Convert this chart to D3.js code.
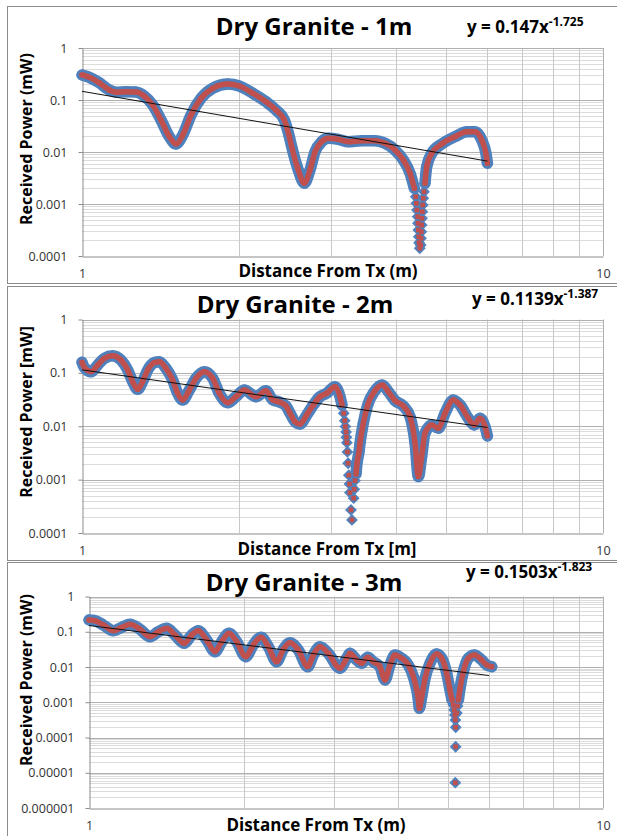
<!DOCTYPE html>
<html>
<head>
<meta charset="utf-8">
<script src="https://cdn.jsdelivr.net/npm/d3@7"></script>
<style>
body { margin: 0; background: #fff; }
svg text { font-family: "Open Sans", sans-serif; }
</style>
</head>
<body>
<div id="chart"></div>
<script>
// ---- data ----
var titles = ["Dry Granite - 1m", "Dry Granite - 2m", "Dry Granite - 3m"];
var yTitles = ["Received Power (mW)", "Received Power [mW]", "Received Power (mW)"];
var xTitles = ["Distance From Tx (m)", "Distance From Tx [m]", "Distance From Tx (m)"];
var yTickLabels = ["1", "0.1", "0.01", "0.001", "0.0001", "0.00001", "0.000001"];
var xTickLabels = ["1", "10"];

// power fit y = a * x^b, drawn over the measured range
var fitA = [0.147, 0.1139, 0.1503];
var fitB = [-1.725, -1.387, -1.823];
var fitRange = [1, 6];

// 1 m
var dist1 = [1.000, 1.033, 1.079, 1.128, 1.162, 1.215, 1.269, 1.317, 1.367, 1.418,
  1.471, 1.515, 1.561, 1.619, 1.692, 1.782, 1.904, 2.004, 2.127, 2.255,
  2.357, 2.445, 2.500, 2.526, 2.601, 2.671, 2.739, 2.801, 2.885, 2.970,
  3.104, 3.244, 3.443, 3.651, 3.815, 3.989, 4.138, 4.263, 4.344,
  4.371, 4.383, 4.395, 4.409, 4.415, 4.422, 4.430, 4.436, 4.449,
  4.468, 4.474, 4.480, 4.487, 4.494, 4.500, 4.508, 4.519, 4.533,
  4.554, 4.588, 4.691, 4.903, 5.199, 5.476, 5.680, 5.851, 5.960, 6.000];
var power1 = [0.303, 0.273, 0.215, 0.156, 0.141, 0.144, 0.1425, 0.119, 0.080, 0.0412,
  0.0197, 0.01425, 0.0212, 0.0515, 0.1078, 0.168, 0.203, 0.186, 0.1346, 0.0927,
  0.0642, 0.0412, 0.0197, 0.01265, 0.00451, 0.0025, 0.00451, 0.01014, 0.0158, 0.0183,
  0.01754, 0.0158, 0.0165, 0.0165, 0.0147, 0.0109, 0.00702, 0.00389, 0.0020,
  0.00138, 0.00103, 0.000767, 0.00057, 0.000426, 0.000316, 0.000235, 0.00018, 0.000141,
  0.000163, 0.000219, 0.000293, 0.000395, 0.000531, 0.000711, 0.000957, 0.00129, 0.00172,
  0.0025, 0.00521, 0.00944, 0.01425, 0.0197, 0.0246, 0.0246, 0.017, 0.00944, 0.00607];
var loose1 = [4.36, 4.545];   // stretch where single markers stand apart

// 2 m
var dist2 = [1.000, 1.010, 1.041, 1.072, 1.104, 1.145, 1.188, 1.224, 1.251, 1.279,
  1.307, 1.337, 1.376, 1.407, 1.449, 1.493, 1.526, 1.561, 1.607, 1.655,
  1.717, 1.782, 1.834, 1.904, 1.975, 2.049, 2.158, 2.255, 2.323, 2.391,
  2.464, 2.507, 2.563, 2.621, 2.700, 2.780, 2.863, 2.949, 3.059, 3.128, 3.155,
  3.180, 3.194, 3.203, 3.213, 3.218, 3.224, 3.232, 3.242, 3.252, 3.261, 3.268, 3.283, 3.297,
  3.322, 3.331, 3.342,
  3.357, 3.372, 3.402, 3.417, 3.467, 3.535, 3.639, 3.771, 3.872, 3.989,
  4.138, 4.263, 4.358, 4.422, 4.487, 4.553, 4.691, 4.830, 4.974, 5.160,
  5.315, 5.514, 5.662, 5.807, 5.937, 6.000];
var power2 = [0.158, 0.127, 0.1053, 0.1406, 0.1877, 0.210, 0.1744, 0.1133, 0.0684, 0.0493,
  0.0684, 0.1133, 0.1552, 0.162, 0.122, 0.0736, 0.0415, 0.0311, 0.0478, 0.0792,
  0.1053, 0.0792, 0.0415, 0.0277, 0.0358, 0.0478, 0.0358, 0.0464, 0.0311, 0.0285,
  0.024, 0.0177, 0.0122, 0.0110, 0.0163, 0.0251, 0.0358, 0.0415, 0.0552, 0.0358, 0.0251,
  0.0175, 0.01273, 0.00984, 0.00782, 0.00622, 0.00493, 0.0033, 0.00203, 0.00121, 0.00083, 0.000571, 0.000271, 0.000176,
  0.000449, 0.00066, 0.000958,
  0.00128, 0.00203, 0.00334, 0.00481, 0.0114, 0.0251, 0.0445, 0.0593, 0.0445, 0.0302,
  0.024, 0.0151, 0.00481, 0.00114, 0.0027, 0.0074, 0.01057, 0.00918, 0.0175, 0.0311,
  0.0251, 0.0141, 0.01057, 0.0141, 0.00984, 0.00658];
var loose2 = [3.17, 3.35];

// 3 m
var dist3 = [1.000, 1.027, 1.066, 1.115, 1.158, 1.202, 1.257, 1.314, 1.364, 1.416,
  1.470, 1.532, 1.584, 1.632, 1.694, 1.758, 1.812, 1.872, 1.938, 2.018,
  2.087, 2.161, 2.233, 2.318, 2.388, 2.460, 2.554, 2.664, 2.732, 2.815,
  2.920, 3.078, 3.172, 3.219, 3.317, 3.392, 3.484, 3.573, 3.682, 3.766,
  3.851, 3.938, 4.057, 4.181, 4.276, 4.342, 4.373, 4.392, 4.440, 4.506,
  4.607, 4.747, 4.855, 4.965, 5.039, 5.085,
  5.115, 5.135, 5.150, 5.162, 5.170, 5.168, 5.160, 5.195, 5.212,
  5.231, 5.271, 5.350, 5.471, 5.620, 5.808, 5.940, 6.075];
var power3 = [0.2154, 0.2058, 0.1554, 0.1071, 0.1337, 0.1627, 0.1173, 0.0724, 0.1003, 0.1253,
  0.0809, 0.0470, 0.0809, 0.1071, 0.0583, 0.0272, 0.0522, 0.0904, 0.0522, 0.0196,
  0.0421, 0.0696, 0.0377, 0.0141, 0.0318, 0.0489, 0.0303, 0.0102, 0.0219, 0.0377,
  0.0245, 0.00919, 0.0177, 0.0245, 0.0158, 0.01273, 0.0188, 0.0141, 0.0102, 0.00428,
  0.0114, 0.0219, 0.0177, 0.0114, 0.0053, 0.00223, 0.00116, 0.000673, 0.00144, 0.00478,
  0.01273, 0.0234, 0.0177, 0.00663, 0.00223, 0.00116,
  0.000836, 0.000603, 0.000435, 0.000313, 0.000195, 0.0000548, 0.00000522, 0.000495, 0.000783,
  0.00116, 0.00249, 0.00736, 0.0177, 0.0219, 0.0158, 0.0114, 0.0102];
var loose3 = [5.10, 5.225];

// ---- layout ----
var panels = [
  {dist: dist1, power: power1, loose: loose1, box: [7, 6, 612, 277],
   left: 82, right: 603, top: 48, bottom: 256, ymin: 1e-4,
   title: [314, 35], eq: [467, 33], ylab: [32, 139], xlab: [328, 277]},
  {dist: dist2, power: power2, loose: loose2, box: [7, 286, 612, 274],
   left: 82, right: 603, top: 319.5, bottom: 533, ymin: 1e-4,
   title: [295, 312.5], eq: [472, 305], ylab: [32, 412], xlab: [327, 555]},
  {dist: dist3, power: power3, loose: loose3, box: [7, 562, 612, 290],
   left: 89, right: 603, top: 596.5, bottom: 808, ymin: 1e-6,
   title: [304, 591], eq: [466, 578], ylab: [32, 680], xlab: [316, 831]}
];

var blue = "#4f81bd", red = "#c0504d";

var svg = d3.select("#chart")
  .append("svg")
  .attr("width", 617)
  .attr("height", 836);

panels.forEach(function(p, k) {
  var g = svg.append("g");

  g.append("rect")
    .attr("x", p.box[0] + 0.5).attr("y", p.box[1] + 0.5)
    .attr("width", p.box[2]).attr("height", p.box[3])
    .attr("fill", "#fff")
    .attr("stroke", "#8c8c8c");

  var x = d3.scaleLog().domain([1, 10]).range([p.left, p.right]);
  var y = d3.scaleLog().domain([p.ymin, 1]).range([p.bottom, p.top]);

  // grid
  var nDec = Math.round(-Math.log10(p.ymin));
  var majors = d3.range(nDec + 1).map(function(i) { return Math.pow(10, -i); });
  var minors = [];
  for (var e = 1; e <= nDec; e++) {
    for (var m = 2; m <= 9; m++) minors.push(m * Math.pow(10, -e));
  }
  g.selectAll(".ymin").data(minors).enter().append("line")
    .attr("x1", p.left).attr("x2", p.right)
    .attr("y1", function(d) { return Math.round(y(d)) + 0.5; })
    .attr("y2", function(d) { return Math.round(y(d)) + 0.5; })
    .attr("stroke", "#dcdcdc");
  g.selectAll(".xmin").data(d3.range(2, 10)).enter().append("line")
    .attr("x1", function(d) { return Math.round(x(d)) + 0.5; })
    .attr("x2", function(d) { return Math.round(x(d)) + 0.5; })
    .attr("y1", p.top).attr("y2", p.bottom)
    .attr("stroke", "#c8c8c8");
  g.selectAll(".ymaj").data(majors.slice(0, nDec)).enter().append("line")
    .attr("x1", p.left).attr("x2", p.right)
    .attr("y1", function(d) { return Math.round(y(d)) + 0.5; })
    .attr("y2", function(d) { return Math.round(y(d)) + 0.5; })
    .attr("stroke", "#b0b0b0");
  g.append("line")
    .attr("x1", Math.round(p.right) + 0.5).attr("x2", Math.round(p.right) + 0.5)
    .attr("y1", p.top).attr("y2", p.bottom)
    .attr("stroke", "#b0b0b0");

  // axes
  var yAxis = d3.axisLeft(y)
    .tickValues(majors)
    .tickFormat(function(d, i) { return yTickLabels[i]; })
    .tickSizeInner(4).tickSizeOuter(0).tickPadding(11);
  var ya = g.append("g")
    .attr("transform", "translate(" + (Math.round(p.left) + 0.5) + ",0)")
    .call(yAxis);
  ya.selectAll("path, line").attr("stroke", "#8c8c8c");
  ya.selectAll("text").attr("font-size", "12.5px").attr("fill", "#333")
    .attr("font-family", "Open Sans");

  var xAxis = d3.axisBottom(x)
    .tickValues([1, 10])
    .tickFormat(function(d, i) { return xTickLabels[i]; })
    .tickSize(0).tickPadding(13);
  var xa = g.append("g")
    .attr("transform", "translate(0," + (Math.round(p.bottom) + 0.5) + ")")
    .call(xAxis);
  xa.selectAll("path").attr("stroke", "#8c8c8c");
  xa.selectAll("text").attr("font-size", "12.5px").attr("fill", "#333")
    .attr("font-family", "Open Sans");

  // measured points
  var pts = p.dist.map(function(d, i) { return {x: d, y: p.power[i]}; });
  var joined = function(d) { return !(d.x > p.loose[0] && d.x < p.loose[1]); };
  var line = d3.line()
    .defined(joined)
    .x(function(d) { return x(d.x); })
    .y(function(d) { return y(d.y); })
    .curve(d3.curveMonotoneX);

  g.append("path").datum(pts)
    .attr("d", line)
    .attr("fill", "none").attr("stroke", blue)
    .attr("stroke-width", 11.5)
    .attr("stroke-linejoin", "round").attr("stroke-linecap", "round");
  g.selectAll(".dia").data(pts).enter().append("path")
    .attr("d", d3.symbol(d3.symbolSquare, 70))
    .attr("transform", function(d) { return "translate(" + x(d.x) + "," + y(d.y) + ") rotate(45)"; })
    .attr("fill", blue);
  g.append("path").datum(pts)
    .attr("d", line)
    .attr("fill", "none").attr("stroke", red)
    .attr("stroke-width", 5.5)
    .attr("stroke-linejoin", "round").attr("stroke-linecap", "round");
  g.selectAll(".sq").data(pts).enter().append("path")
    .attr("d", d3.symbol(d3.symbolSquare, 22))
    .attr("transform", function(d) { return "translate(" + x(d.x) + "," + y(d.y) + ")"; })
    .attr("fill", red);

  // trend line
  var trend = fitRange.map(function(d) { return {x: d, y: fitA[k] * Math.pow(d, fitB[k])}; });
  g.append("path").datum(trend)
    .attr("d", d3.line().x(function(d) { return x(d.x); }).y(function(d) { return y(d.y); }))
    .attr("fill", "none").attr("stroke", "#111").attr("stroke-width", 1);

  // texts
  g.append("text")
    .attr("x", p.title[0]).attr("y", p.title[1])
    .attr("text-anchor", "middle")
    .attr("font-size", "24px").attr("font-weight", "bold")
    .text(titles[k]);

  var eq = g.append("text")
    .attr("x", p.eq[0]).attr("y", p.eq[1])
    .attr("font-size", "17px").attr("font-weight", "bold");
  eq.append("tspan").text("y = " + fitA[k] + "x");
  eq.append("tspan").attr("dy", -7).attr("font-size", "12px").text(fitB[k].toFixed(3));

  g.append("text")
    .attr("transform", "translate(" + p.ylab[0] + "," + p.ylab[1] + ") rotate(-90)")
    .attr("text-anchor", "middle")
    .attr("font-size", "16px").attr("font-weight", "bold")
    .text(yTitles[k]);

  g.append("text")
    .attr("x", p.xlab[0]).attr("y", p.xlab[1])
    .attr("text-anchor", "middle")
    .attr("font-size", "17px").attr("font-weight", "bold")
    .text(xTitles[k]);
});
</script>
</body>
</html>
